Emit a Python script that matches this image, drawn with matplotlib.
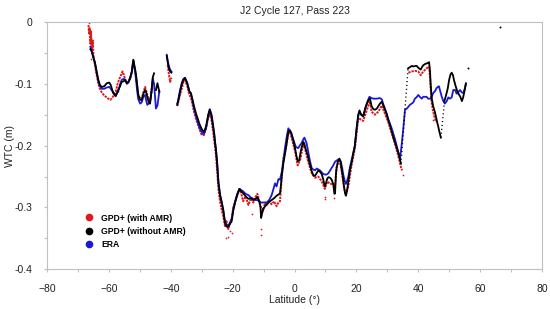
import numpy as np
import matplotlib
matplotlib.use("Agg")
import matplotlib.pyplot as plt
from matplotlib.lines import Line2D

plt.rcParams['font.family'] = ['Liberation Sans', 'DejaVu Sans']

# ---------------- data ----------------
title = "J2 Cycle 127, Pass 223"
series_names = ["GPD+ (with AMR)", "GPD+ (without AMR)", "ERA"]
xticks = [-80, -60, -40, -20, 0, 20, 40, 60, 80]
yticks = [0, -0.1, -0.2, -0.3, -0.4]
ytick_labels = ["0", "-0.1", "-0.2", "-0.3", "-0.4"]

# GPD+ (without AMR) - black, segments
black_lat_1 = [-66.0, -65.6, -65.0, -64.5, -63.9, -63.4, -62.9, -62.3, -61.5, -60.7,
               -59.9, -59.4, -58.6, -57.8, -57.0, -56.4, -55.9, -55.3, -54.8, -54.2,
               -53.7, -53.1, -52.6, -52.1, -51.7, -51.3, -50.9, -50.5, -49.9, -49.4,
               -48.8, -48.3, -47.9, -47.6, -47.1, -46.7, -46.2, -45.8, -45.4]
black_wtc_1 = [-0.044, -0.047, -0.058, -0.066, -0.082, -0.094, -0.102, -0.105, -0.104, -0.099,
               -0.098, -0.102, -0.115, -0.120, -0.110, -0.104, -0.097, -0.096, -0.094, -0.099,
               -0.097, -0.090, -0.080, -0.061, -0.072, -0.083, -0.100, -0.118, -0.126, -0.126,
               -0.115, -0.110, -0.115, -0.121, -0.130, -0.132, -0.110, -0.089, -0.083]
black_lat_2 = [-44.8, -44.3, -43.7]
black_wtc_2 = [-0.110, -0.099, -0.113]
black_lat_3 = [-41.3, -40.9, -40.5, -40.2, -39.8]
black_wtc_3 = [-0.055, -0.068, -0.077, -0.080, -0.082]
black_lat_4 = [-37.9, -37.6, -37.0, -36.4, -35.9, -35.4, -34.7, -34.0, -33.5, -33.0,
               -32.5, -31.8, -31.3, -30.8, -30.3, -29.8, -29.3, -28.6, -27.9, -27.4,
               -26.8, -26.3, -26.0, -25.7, -25.4, -25.0, -24.6, -24.1, -23.5, -23.0,
               -22.5, -22.0, -21.4, -20.9, -20.3, -19.8, -19.2, -18.5, -17.8, -17.2,
               -16.6, -15.8, -14.9, -14.1, -13.3, -12.6, -12.0, -11.4, -11.0, -10.8,
               -10.5, -10.1, -9.5, -9.0, -8.2, -7.4, -6.6, -5.8, -5.2, -4.7,
               -4.4, -4.1, -3.6, -3.1, -2.8, -2.4, -2.0, -1.5, -1.0, -0.4,
               0.2, 0.6, 1.0, 1.5, 1.9, 2.3, 2.8, 3.1, 3.7, 4.2,
               4.6, 5.0, 5.6, 6.1, 6.6, 7.2, 7.7, 8.2, 8.8, 9.3,
               9.8, 10.2, 10.6, 11.0, 11.5, 12.0, 12.5, 12.9, 13.1, 13.4,
               13.6, 14.0, 14.5, 14.9, 15.2, 15.6, 16.0, 16.3, 16.6, 17.0,
               17.4, 17.9, 18.5, 19.0, 19.5, 20.1, 20.6, 21.0, 21.5, 22.2,
               23.0, 23.5, 23.9, 24.4, 24.9, 25.5, 26.0, 26.6, 27.1, 27.6,
               28.2, 28.7, 29.2, 29.8, 30.3, 30.9, 31.4, 31.9, 32.5, 33.0,
               33.6, 34.1, 34.4]
black_wtc_4 = [-0.134, -0.128, -0.113, -0.100, -0.093, -0.091, -0.099, -0.112, -0.115, -0.125,
               -0.136, -0.149, -0.156, -0.164, -0.170, -0.175, -0.178, -0.169, -0.150, -0.142,
               -0.153, -0.170, -0.180, -0.195, -0.207, -0.230, -0.260, -0.280, -0.293, -0.305,
               -0.325, -0.331, -0.331, -0.327, -0.322, -0.305, -0.292, -0.280, -0.270, -0.274,
               -0.277, -0.282, -0.286, -0.285, -0.288, -0.286, -0.283, -0.290, -0.300, -0.317,
               -0.310, -0.302, -0.298, -0.295, -0.291, -0.288, -0.285, -0.281, -0.279, -0.277,
               -0.264, -0.248, -0.228, -0.214, -0.204, -0.190, -0.178, -0.175, -0.180, -0.192,
               -0.205, -0.216, -0.225, -0.224, -0.212, -0.203, -0.194, -0.196, -0.207, -0.215,
               -0.223, -0.231, -0.242, -0.248, -0.249, -0.244, -0.240, -0.242, -0.246, -0.255,
               -0.266, -0.260, -0.253, -0.251, -0.252, -0.255, -0.262, -0.278, -0.277, -0.245,
               -0.236, -0.226, -0.221, -0.226, -0.237, -0.250, -0.266, -0.276, -0.281, -0.272,
               -0.258, -0.240, -0.226, -0.212, -0.200, -0.170, -0.150, -0.143, -0.150, -0.153,
               -0.137, -0.131, -0.126, -0.124, -0.136, -0.141, -0.142, -0.140, -0.136, -0.132,
               -0.129, -0.135, -0.142, -0.150, -0.159, -0.168, -0.177, -0.186, -0.195, -0.203,
               -0.212, -0.223, -0.229]
black_lat_5 = [36.7, 37.3, 37.9, 38.4, 39.0, 39.5, 40.0, 40.5, 40.8, 41.2,
               41.6, 42.2, 42.7, 43.2, 43.5, 43.8, 44.0, 44.3, 44.8, 45.4,
               45.8, 46.1, 46.5, 46.8, 47.1, 47.3]
black_wtc_5 = [-0.075, -0.073, -0.071, -0.072, -0.071, -0.071, -0.074, -0.076, -0.077, -0.073,
               -0.070, -0.068, -0.067, -0.066, -0.065, -0.080, -0.100, -0.122, -0.136, -0.146,
               -0.155, -0.162, -0.170, -0.177, -0.183, -0.187]
black_lat_6 = [48.5, 49.0, 49.5, 50.0, 50.4, 50.8, 51.2, 51.6, 52.1, 52.6,
               53.1, 53.6, 54.1, 54.5, 54.8, 55.1, 55.4]
black_wtc_6 = [-0.127, -0.118, -0.108, -0.093, -0.085, -0.082, -0.086, -0.095, -0.104, -0.112,
               -0.117, -0.121, -0.128, -0.122, -0.115, -0.108, -0.100]
# sparse (dotted) steep parts of the black series: end points
black_dot_lat = [[34.4, 36.7], [47.3, 48.5]]
black_dot_wtc = [[-0.229, -0.075], [-0.187, -0.127]]
black_iso_lat = [56.1, 66.4]
black_iso_wtc = [-0.075, -0.008]

# ERA - blue, segments
blue_lat_1 = [-66.0, -65.6, -65.0, -64.5, -63.9, -63.4, -62.9, -62.3, -61.5, -60.7,
              -59.9, -59.4, -58.6, -57.8, -57.0, -56.4, -55.9, -55.3, -54.8, -54.2,
              -53.7, -53.1, -52.6, -52.1, -51.7, -51.3, -50.9, -50.5, -49.9, -49.4,
              -48.8, -48.3, -47.9, -47.6, -47.1, -46.7, -46.2, -45.8, -45.4, -44.8,
              -44.3, -43.7]
blue_wtc_1 = [-0.040, -0.046, -0.057, -0.066, -0.083, -0.096, -0.104, -0.108, -0.108, -0.106,
              -0.105, -0.108, -0.114, -0.118, -0.113, -0.101, -0.094, -0.092, -0.093, -0.100,
              -0.098, -0.091, -0.081, -0.062, -0.075, -0.090, -0.110, -0.125, -0.132, -0.130,
              -0.120, -0.118, -0.128, -0.134, -0.132, -0.130, -0.112, -0.092, -0.100, -0.140,
              -0.135, -0.112]
blue_lat_2 = [-41.3, -40.9, -40.5, -40.2, -39.8]
blue_wtc_2 = [-0.053, -0.065, -0.073, -0.077, -0.080]
blue_lat_3 = [-37.9, -37.6, -37.0, -36.4, -35.9, -35.4, -34.7, -34.0, -33.5, -33.0,
              -32.5, -31.8, -31.3, -30.8, -30.3, -29.8, -29.3, -28.6, -27.9, -27.4,
              -26.8, -26.3, -26.0, -25.7, -25.4, -25.0, -24.6, -24.1, -23.5, -23.0,
              -22.5, -22.0, -21.4, -20.9, -20.3, -19.8, -19.2, -18.5, -17.8, -17.2,
              -16.6, -15.8, -14.9, -14.1, -13.3, -12.6, -12.0, -11.4, -10.8, -10.1,
              -9.0, -8.2, -7.4, -6.8, -6.3, -5.8, -5.2, -4.7, -4.1, -3.6,
              -3.1, -2.5, -2.0, -1.3, -0.4, 0.4, 1.2, 1.8, 2.3, 2.8,
              3.2, 3.9, 4.5, 5.0, 5.6, 6.6, 7.2, 8.2, 9.3, 10.2,
              10.9, 11.5, 12.5, 13.1, 14.2, 14.9, 15.4, 15.8, 16.3, 16.6,
              17.0, 17.4, 17.9, 18.5, 19.0, 19.5, 20.1, 20.6, 21.0, 21.5,
              22.2, 23.0, 23.5, 24.2, 24.9, 25.5, 26.6, 27.6, 28.2, 28.7,
              29.2, 29.8, 30.3, 31.4, 32.5, 33.0, 33.6, 34.1, 34.6, 35.2,
              35.7, 36.3, 37.3, 38.4, 38.9, 39.4, 40.0, 40.5, 41.1, 41.6,
              42.2, 42.7, 43.2, 43.8, 44.3, 44.8, 45.4, 45.9, 46.3, 46.7,
              47.1, 47.6, 48.1, 48.6, 49.2, 49.7, 50.2, 50.8, 51.3, 51.9,
              52.4, 53.0, 53.5, 54.1, 54.6, 55.0, 55.4]
blue_wtc_3 = [-0.132, -0.126, -0.110, -0.098, -0.092, -0.090, -0.098, -0.112, -0.116, -0.127,
              -0.140, -0.153, -0.162, -0.170, -0.176, -0.180, -0.181, -0.172, -0.152, -0.141,
              -0.150, -0.168, -0.178, -0.193, -0.205, -0.228, -0.258, -0.278, -0.292, -0.306,
              -0.322, -0.328, -0.330, -0.325, -0.318, -0.302, -0.290, -0.278, -0.270, -0.272,
              -0.274, -0.278, -0.280, -0.284, -0.286, -0.288, -0.288, -0.290, -0.292, -0.292,
              -0.292, -0.288, -0.280, -0.270, -0.261, -0.266, -0.254, -0.255, -0.242, -0.225,
              -0.204, -0.185, -0.172, -0.178, -0.190, -0.202, -0.204, -0.199, -0.196, -0.190,
              -0.187, -0.196, -0.212, -0.225, -0.237, -0.240, -0.237, -0.240, -0.246, -0.247,
              -0.245, -0.240, -0.232, -0.226, -0.222, -0.225, -0.236, -0.248, -0.258, -0.262,
              -0.257, -0.250, -0.235, -0.222, -0.212, -0.200, -0.172, -0.152, -0.145, -0.149,
              -0.152, -0.138, -0.130, -0.121, -0.123, -0.124, -0.124, -0.123, -0.125, -0.133,
              -0.140, -0.148, -0.157, -0.172, -0.190, -0.200, -0.212, -0.221, -0.200, -0.170,
              -0.142, -0.140, -0.134, -0.130, -0.124, -0.122, -0.118, -0.121, -0.124, -0.121,
              -0.121, -0.121, -0.124, -0.124, -0.122, -0.115, -0.112, -0.107, -0.105, -0.104,
              -0.112, -0.121, -0.128, -0.132, -0.128, -0.122, -0.124, -0.122, -0.110, -0.110,
              -0.116, -0.113, -0.110, -0.114, -0.115, -0.108, -0.099]

# GPD+ (with AMR) - red, segments
red_lat_1 = [-66.6, -66.4, -66.2, -66.0, -65.8, -65.5, -65.2, -65.0, -64.5, -64.0,
             -63.4, -62.9, -62.3, -61.5, -60.7, -60.2, -59.6, -59.1, -58.6, -57.8,
             -57.2, -56.6, -56.1, -55.6, -55.2, -54.8, -54.2, -53.7, -53.1, -52.6,
             -52.1, -51.7, -51.3, -50.9, -50.5, -49.9, -49.4, -48.8, -48.3, -47.9,
             -47.6, -47.1, -46.7, -46.2, -45.8, -45.4]
red_wtc_1 = [-0.005, -0.020, -0.010, -0.035, -0.015, -0.045, -0.030, -0.055, -0.070, -0.085,
             -0.100, -0.108, -0.114, -0.119, -0.122, -0.124, -0.126, -0.124, -0.120, -0.113,
             -0.100, -0.092, -0.086, -0.080, -0.085, -0.092, -0.098, -0.097, -0.090, -0.082,
             -0.063, -0.074, -0.085, -0.102, -0.118, -0.124, -0.124, -0.113, -0.105, -0.112,
             -0.118, -0.125, -0.128, -0.112, -0.092, -0.090]
red_lat_2 = [-41.0, -40.6, -40.2, -39.8]
red_wtc_2 = [-0.070, -0.085, -0.097, -0.090]
red_lat_3 = [-37.9, -37.0, -35.9, -35.4, -34.7, -34.0, -33.5, -32.5, -31.8, -30.8,
             -30.0, -29.3, -28.6, -27.9, -27.4, -26.8, -26.0, -25.4, -24.6, -24.1,
             -23.5, -23.0, -22.5, -22.0, -21.4, -20.9, -20.3, -19.8, -19.2, -18.5,
             -17.8, -17.2, -16.6, -15.8, -14.9, -14.1, -13.3, -12.6, -12.0, -11.4,
             -10.8, -10.1, -9.5, -9.0, -8.2, -7.4, -6.6, -5.8, -5.2, -4.7,
             -4.1, -3.6, -2.8, -2.0, -1.5, -0.7, 0.2, 1.0, 1.9, 2.8,
             3.4, 4.2, 5.0, 5.6, 6.6, 7.7, 8.8, 9.8, 10.6, 11.5,
             12.5, 13.1, 13.6, 14.5, 15.2, 16.0, 16.6, 17.4, 18.5, 19.5,
             20.6, 21.5, 22.2, 23.0, 23.9, 24.4, 24.9, 25.5, 26.0, 27.1,
             28.2, 29.2, 30.3, 31.4, 32.5, 33.6, 34.4, 34.8]
red_wtc_3 = [-0.136, -0.118, -0.097, -0.094, -0.103, -0.118, -0.122, -0.145, -0.158, -0.172,
             -0.183, -0.183, -0.172, -0.155, -0.148, -0.160, -0.190, -0.215, -0.270, -0.290,
             -0.305, -0.315, -0.330, -0.322, -0.335, -0.325, -0.318, -0.300, -0.290, -0.278,
             -0.270, -0.278, -0.290, -0.282, -0.296, -0.285, -0.292, -0.283, -0.278, -0.290,
             -0.300, -0.305, -0.292, -0.296, -0.290, -0.295, -0.290, -0.298, -0.292, -0.290,
             -0.250, -0.220, -0.205, -0.180, -0.177, -0.192, -0.210, -0.232, -0.222, -0.197,
             -0.205, -0.222, -0.236, -0.245, -0.252, -0.250, -0.258, -0.270, -0.258, -0.262,
             -0.262, -0.265, -0.235, -0.222, -0.240, -0.268, -0.280, -0.265, -0.230, -0.205,
             -0.155, -0.158, -0.160, -0.148, -0.135, -0.128, -0.145, -0.148, -0.150, -0.145,
             -0.135, -0.148, -0.162, -0.180, -0.198, -0.218, -0.235, -0.240]
red_lat_4 = [36.8, 37.9, 39.0, 40.0, 40.8, 41.6, 42.7, 43.5, 43.8, 44.3, 44.8, 45.3, 45.8]
red_wtc_4 = [-0.082, -0.080, -0.079, -0.080, -0.086, -0.080, -0.075, -0.072, -0.090, -0.130,
             -0.145, -0.155, -0.162]
red_out_lat = [-22.3, -21.6, -20.1, -20.8, -13.6, -10.8, -10.7, 9.7, 9.9, 12.9, 35.0, 44.6, -66.4, -65.9]
red_out_wtc = [-0.350, -0.348, -0.342, -0.338, -0.310, -0.345, -0.335, -0.287, -0.283, -0.285,
               -0.248, -0.158, -0.002, -0.060]

# ---------------- drawing ----------------
RED = '#e0191c'
BLUE = '#1a1ad6'
BLACK = '#000000'
GRID = '#c0c0c0'
TXT = '#222222'

fig = plt.figure(figsize=(5.5, 3.09), dpi=100)
ax = fig.add_axes([0.0855, 0.1285, 0.9, 0.8003])

for la, va in [(red_lat_1, red_wtc_1), (red_lat_2, red_wtc_2),
               (red_lat_3, red_wtc_3), (red_lat_4, red_wtc_4)]:
    ax.plot(la, va, color=RED, lw=1.4, ls=(0, (1.2, 0.5)), zorder=2)
ax.scatter(red_out_lat, red_out_wtc, s=1.5, color=RED, zorder=2, linewidths=0)

for la, va in [(blue_lat_1, blue_wtc_1), (blue_lat_2, blue_wtc_2), (blue_lat_3, blue_wtc_3)]:
    ax.plot(la, va, color=BLUE, lw=1.3, zorder=3)

for la, va in [(black_lat_1, black_wtc_1), (black_lat_2, black_wtc_2),
               (black_lat_3, black_wtc_3), (black_lat_4, black_wtc_4),
               (black_lat_5, black_wtc_5), (black_lat_6, black_wtc_6)]:
    ax.plot(la, va, color=BLACK, lw=1.3, zorder=4)
for la, va in zip(black_dot_lat, black_dot_wtc):
    ax.plot(la, va, color=BLACK, lw=1.0, ls=(0, (0.8, 2.0)), zorder=4)
ax.scatter(black_iso_lat, black_iso_wtc, s=2, color=BLACK, zorder=4, linewidths=0)

ax.set_xlim(-80, 80)
ax.set_ylim(-0.4, 0)
ax.set_xticks(xticks)
ax.set_xticks(np.arange(-80, 81, 10), minor=True)
ax.set_yticks(yticks)
ax.set_yticklabels(ytick_labels)
ax.set_yticks(np.arange(-0.4, 0.001, 0.05), minor=True)
for s in ax.spines.values():
    s.set_color(GRID)
    s.set_linewidth(0.8)
ax.tick_params(which='both', direction='out', length=2.3, color=GRID, width=0.8,
               labelsize=7.5, labelcolor=TXT)
ax.tick_params(axis='x', which='both', pad=8)
ax.tick_params(axis='y', which='both', pad=8)

ax.set_title(title, fontsize=7.5, color=TXT, pad=6)
ax.set_xlabel("Latitude (°)", fontsize=7.5, color=TXT, labelpad=1)
ax.set_ylabel("WTC (m)", fontsize=7.5, color=TXT, labelpad=0)

handles = [Line2D([], [], ls='none', marker='o', color=c, markersize=4.5)
           for c in [RED, BLACK, BLUE]]
ax.legend(handles, series_names, loc='upper left', bbox_to_anchor=(0.067, 0.243),
          frameon=False, prop={'weight': 'bold', 'size': 6.2}, handletextpad=0.95,
          labelspacing=0.52, borderpad=0, handlelength=1.0)

fig.savefig("out.png", dpi=100)
